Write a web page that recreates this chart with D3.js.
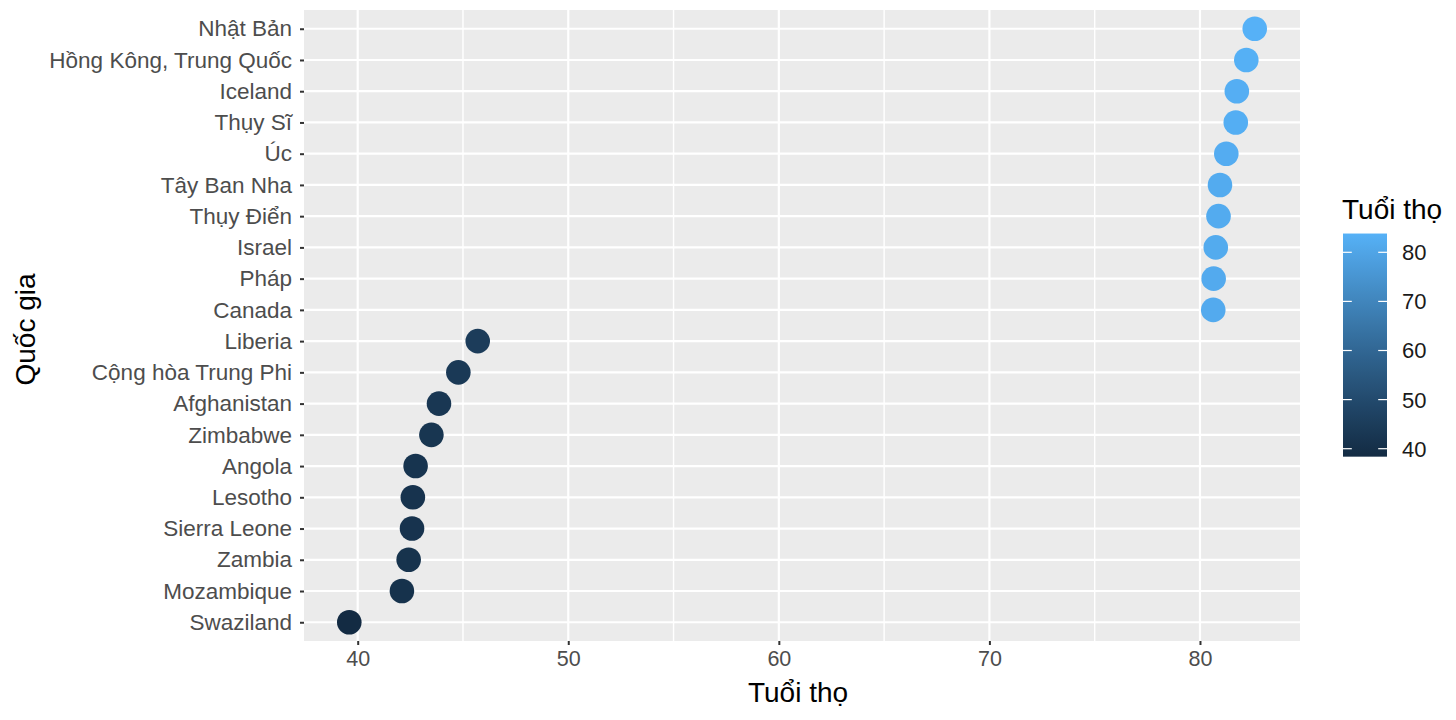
<!DOCTYPE html>
<html><head><meta charset="utf-8">
<script src="https://cdn.jsdelivr.net/npm/d3@7"></script>
<style>
body{margin:0;background:#fff;}
svg{font-family:"Liberation Sans",Arial,Helvetica,sans-serif;}
</style></head>
<body>
<svg id="chart" width="1456" height="720"></svg>
<script>
const countries = ["Nhật Bản","Hồng Kông, Trung Quốc","Iceland","Thụy Sĩ","Úc","Tây Ban Nha","Thụy Điển","Israel","Pháp","Canada","Liberia","Cộng hòa Trung Phi","Afghanistan","Zimbabwe","Angola","Lesotho","Sierra Leone","Zambia","Mozambique","Swaziland"];
const lifeExp = [82.6,82.2,81.75,81.7,81.25,80.95,80.88,80.75,80.65,80.63,45.7,44.78,43.86,43.5,42.75,42.62,42.58,42.42,42.1,39.6];
const xTicks = [40,50,60,70,80];
const xMinor = [45,55,65,75];
const legendTicks = [40,50,60,70,80];
const xTitle = "Tuổi thọ";
const yTitle = "Quốc gia";
const legendTitle = "Tuổi thọ";

const svg = d3.select("#chart");
const panel = {left:304, right:1300, top:10, bottom:641};

const ext = d3.extent(lifeExp);
const pad = (ext[1]-ext[0])*0.05;
const x = d3.scaleLinear().domain([ext[0]-pad, ext[1]+pad]).range([panel.left, panel.right]);
const y = d3.scalePoint().domain(countries).range([panel.top, panel.bottom]).padding(0.6);
const color = d3.scaleLinear().domain(ext).range(["#132B43","#56B1F7"]).interpolate(d3.interpolateLab);

svg.append("rect").attr("x",panel.left).attr("y",panel.top)
  .attr("width",panel.right-panel.left).attr("height",panel.bottom-panel.top).attr("fill","#EBEBEB");

svg.append("g").selectAll("line").data(xMinor).join("line")
  .attr("x1",d=>x(d)).attr("x2",d=>x(d)).attr("y1",panel.top).attr("y2",panel.bottom)
  .attr("stroke","#fff").attr("stroke-width",1.4);
svg.append("g").selectAll("line").data(xTicks).join("line")
  .attr("x1",d=>x(d)).attr("x2",d=>x(d)).attr("y1",panel.top).attr("y2",panel.bottom)
  .attr("stroke","#fff").attr("stroke-width",2.2);
svg.append("g").selectAll("line").data(countries).join("line")
  .attr("x1",panel.left).attr("x2",panel.right).attr("y1",d=>y(d)).attr("y2",d=>y(d))
  .attr("stroke","#fff").attr("stroke-width",2.2);

// axes
const xAxis = svg.append("g").attr("transform",`translate(0,${panel.bottom})`)
  .call(d3.axisBottom(x).tickValues(xTicks).tickSize(4).tickPadding(6).tickFormat(d3.format("d")));
xAxis.select(".domain").remove();
xAxis.selectAll(".tick line").attr("stroke","#333").attr("stroke-width",2);
xAxis.selectAll("text").attr("fill","#4D4D4D").style("font-size","21.5px");

const yAxis = svg.append("g").attr("transform",`translate(${panel.left},0)`)
  .call(d3.axisLeft(y).tickSize(4).tickPadding(8));
yAxis.select(".domain").remove();
yAxis.selectAll(".tick line").attr("stroke","#333").attr("stroke-width",2);
yAxis.selectAll("text").attr("fill","#4D4D4D").style("font-size","22.5px");

// points
svg.append("g").selectAll("circle").data(countries).join("circle")
  .attr("cx",(d,i)=>x(lifeExp[i])).attr("cy",d=>y(d)).attr("r",12.3)
  .attr("fill",(d,i)=>color(lifeExp[i]));

// titles
svg.append("text").attr("x",(panel.left+panel.right)/2-4).attr("y",702)
  .attr("text-anchor","middle").style("font-size","28px").attr("fill","#000").text(xTitle);
svg.append("text").attr("transform",`translate(35,${(panel.top+panel.bottom)/2 + 4}) rotate(-90)`)
  .attr("text-anchor","middle").style("font-size","28px").attr("fill","#000").text(yTitle);

// legend
const lg = {x:1343, w:44};
const ly = d3.scaleLinear().domain([40,80]).range([448.7,252.3]);
const defs = svg.append("defs");
const grad = defs.append("linearGradient").attr("id","lgrad").attr("x1",0).attr("x2",0).attr("y1",1).attr("y2",0);
d3.range(0,1.0001,0.05).forEach(t=>{
  grad.append("stop").attr("offset",t).attr("stop-color",color(ext[0]+t*(ext[1]-ext[0])));
});
const barTop = ly(ext[1]) - 6, barBot = ly(ext[0]) + 6;
svg.append("rect").attr("x",lg.x).attr("y",barTop).attr("width",lg.w).attr("height",barBot-barTop)
  .attr("fill","url(#lgrad)");
const lt = svg.append("g");
lt.selectAll("line.l").data(legendTicks).join("line").attr("class","l")
  .attr("x1",lg.x).attr("x2",lg.x+lg.w/5).attr("y1",d=>ly(d)).attr("y2",d=>ly(d))
  .attr("stroke","#fff").attr("stroke-width",1.2);
lt.selectAll("line.r").data(legendTicks).join("line").attr("class","r")
  .attr("x1",lg.x+lg.w*4/5).attr("x2",lg.x+lg.w).attr("y1",d=>ly(d)).attr("y2",d=>ly(d))
  .attr("stroke","#fff").attr("stroke-width",1.2);
lt.selectAll("text").data(legendTicks).join("text")
  .attr("x",lg.x+lg.w+15).attr("y",d=>ly(d)).attr("dy","0.36em")
  .style("font-size","22px").attr("fill","#1a1a1a").text(d=>d);
svg.append("text").attr("x",lg.x-1).attr("y",219).style("font-size","28px").attr("fill","#000").text(legendTitle);
</script>
</body></html>
